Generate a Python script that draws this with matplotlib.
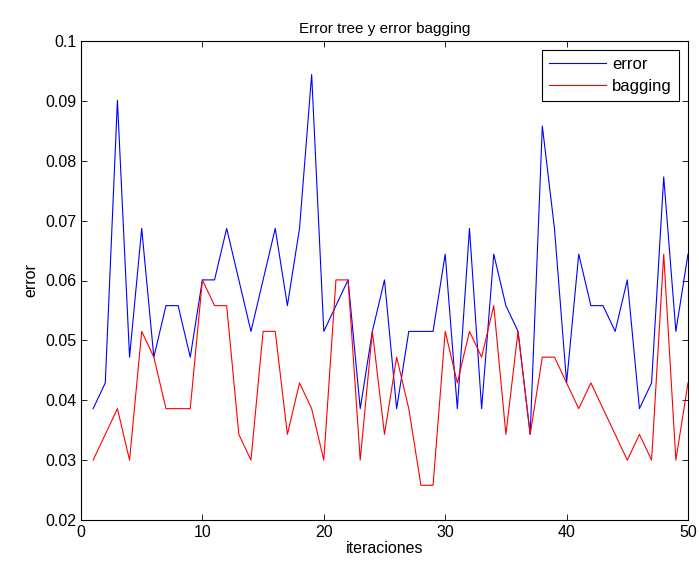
import numpy as np
import matplotlib
matplotlib.use('Agg')
import matplotlib.pyplot as plt

plt.rcParams['font.family'] = ['Liberation Sans', 'DejaVu Sans']

# data
iteraciones = list(range(1, 51))
error = [0.0386, 0.0429, 0.0901, 0.0472, 0.0687, 0.0472, 0.0558, 0.0558, 0.0472, 0.0601,
         0.0601, 0.0687, 0.0601, 0.0515, 0.0601, 0.0687, 0.0558, 0.0687, 0.0944, 0.0515,
         0.0558, 0.0601, 0.0386, 0.0515, 0.0601, 0.0386, 0.0515, 0.0515, 0.0515, 0.0644,
         0.0386, 0.0687, 0.0386, 0.0644, 0.0558, 0.0515, 0.0343, 0.0858, 0.0687, 0.0429,
         0.0644, 0.0558, 0.0558, 0.0515, 0.0601, 0.0386, 0.0429, 0.0773, 0.0515, 0.0644]
bagging = [0.0300, 0.0343, 0.0386, 0.0300, 0.0515, 0.0472, 0.0386, 0.0386, 0.0386, 0.0601,
           0.0558, 0.0558, 0.0343, 0.0300, 0.0515, 0.0515, 0.0343, 0.0429, 0.0386, 0.0300,
           0.0601, 0.0601, 0.0300, 0.0515, 0.0343, 0.0472, 0.0386, 0.0258, 0.0258, 0.0515,
           0.0429, 0.0515, 0.0472, 0.0558, 0.0343, 0.0515, 0.0343, 0.0472, 0.0472, 0.0429,
           0.0386, 0.0429, 0.0386, 0.0343, 0.0300, 0.0343, 0.0300, 0.0644, 0.0300, 0.0429]

fig = plt.figure(figsize=(6.99, 5.66), dpi=100)
ax = fig.add_axes([81/699, 1-520/566, (688-81)/699, (520-41)/566])

ax.plot(iteraciones, error, color='#0000ff', lw=0.8, label='error')
ax.plot(iteraciones, bagging, color='#ff0000', lw=0.8, label='bagging')

ax.set_xlim(0, 50)
ax.set_ylim(0.02, 0.1)
ax.set_xticks(np.arange(0, 51, 10))
ax.set_yticks(np.arange(0.02, 0.1001, 0.01))
ax.set_yticklabels(['0.02', '0.03', '0.04', '0.05', '0.06', '0.07', '0.08', '0.09', '0.1'])
ax.tick_params(direction='in', top=True, right=True, labelsize=11.5, length=4, width=0.6)
for s in ax.spines.values():
    s.set_linewidth(0.8)

ax.set_title('Error tree y error bagging', fontsize=11)
ax.set_xlabel('iteraciones', fontsize=11.5, labelpad=1)
ax.set_ylabel('error', fontsize=11.5, labelpad=5)

leg = ax.legend(loc='upper right', fontsize=12, fancybox=False, edgecolor='black',
                framealpha=1, borderaxespad=0.55, handlelength=3.4, handletextpad=0.4,
                borderpad=0.4, labelspacing=0.45)
leg.get_frame().set_linewidth(0.8)

fig.savefig('out.png', dpi=100)
